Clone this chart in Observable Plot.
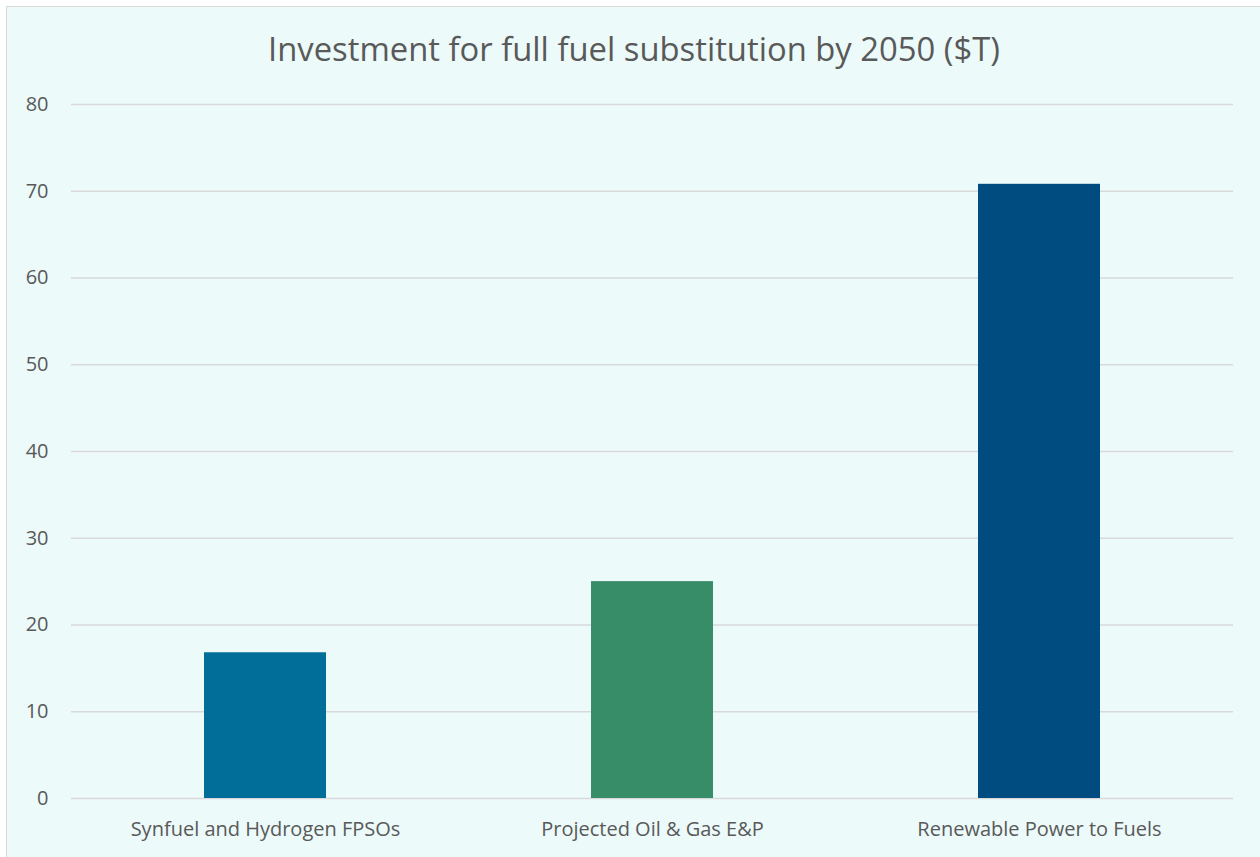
<!DOCTYPE html>
<html>
<head>
<meta charset="utf-8">
<script src="https://cdn.jsdelivr.net/npm/d3@7"></script>
<script src="https://cdn.jsdelivr.net/npm/@observablehq/plot@0.6"></script>
<style>
  html, body { margin: 0; padding: 0; background: #ffffff; overflow: hidden; }
  #frame { position: absolute; left: 6px; top: 6px; width: 1270px; height: 870px;
           background: #ECFAFA; border: 1.5px solid #D9D9D9; box-sizing: border-box; }
  #title { position: absolute; left: 0; top: 26px; width: 1268px; text-align: center;
           font-family: "Open Sans", sans-serif; font-size: 32.8px; color: #595959; }
  #chart { position: absolute; left: 0; top: 0; }
</style>
</head>
<body>
<div id="frame"></div>
<div id="title">Investment for full fuel substitution by 2050 ($T)</div>
<div id="chart"></div>
<script>
const categories = ["Synfuel and Hydrogen FPSOs", "Projected Oil & Gas E&P", "Renewable Power to Fuels"];
const values = [16.8, 25.0, 70.8];
const colors = ["#006E98", "#388D69", "#004B80"];
const yTicks = [0, 10, 20, 30, 40, 50, 60, 70, 80];

const data = categories.map((c, i) => ({category: c, value: values[i], color: colors[i]}));

const plot = Plot.plot({
  width: 1260,
  height: 857,
  marginLeft: 71,
  marginRight: 27,
  marginTop: 104,
  marginBottom: 59,
  style: {background: "transparent", fontFamily: "'Open Sans', sans-serif", fontSize: "20px", color: "#595959"},
  x: {domain: categories, paddingInner: 0.685, paddingOuter: 0.3425, label: null},
  y: {domain: [0, 80], label: null},
  marks: [
    Plot.ruleY(yTicks, {stroke: "#D9D9D9", strokeWidth: 1.5}),
    Plot.barY(data, {x: "category", y: "value", fill: "color"}),
    Plot.axisY({ticks: yTicks, tickSize: 0, tickPadding: 23, label: null, fill: "#595959", fontSize: 20}),
    Plot.axisX({tickSize: 0, tickPadding: 23, label: null, fill: "#595959", fontSize: 20})
  ]
});
document.getElementById("chart").appendChild(plot);
</script>
</body>
</html>
